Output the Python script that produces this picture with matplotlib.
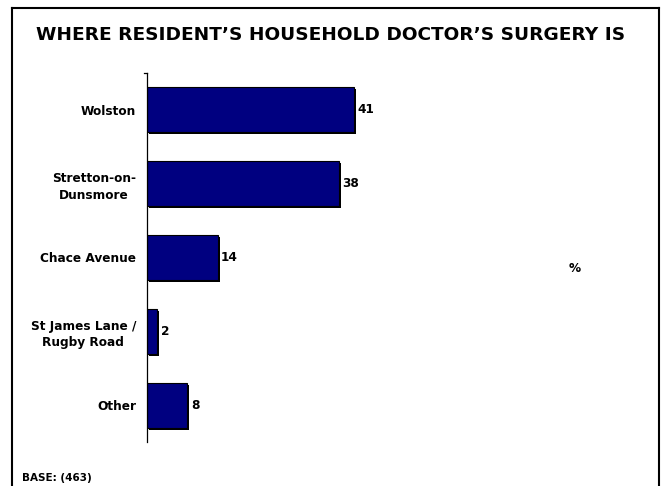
import matplotlib
matplotlib.use("Agg")
import matplotlib.pyplot as plt
from matplotlib.lines import Line2D
import matplotlib.patheffects as pe

categories = ["Wolston", "Stretton-on-\nDunsmore", "Chace Avenue", "St James Lane /\nRugby Road", "Other"]
values = [41, 38, 14, 2, 8]
title = "WHERE RESIDENT\u2019S HOUSEHOLD DOCTOR\u2019S SURGERY IS"
base_text = "BASE: (463)"

plt.rcParams['font.family'] = ['DejaVu Sans']
W, H = 662, 486
fig = plt.figure(figsize=(W/100, H/100), dpi=100)
fig.patch.set_facecolor('white')

ax = fig.add_axes([147/W, 1-442/H, 404/W, 369/H])
pos = list(range(len(categories)))
bars = ax.barh(pos, values, height=0.61, color='#000080', edgecolor='black', linewidth=0.8,
               path_effects=[pe.SimplePatchShadow(offset=(1.5, -1.5), shadow_rgbFace='black', alpha=1), pe.Normal()])
ax.set_xlim(0, 80)
ax.set_ylim(len(categories)-0.5, -0.5)
ax.set_yticks(pos)
ax.set_yticklabels(categories, fontsize=8.7, fontweight='bold', multialignment='center', linespacing=1.35)
ax.tick_params(axis='y', length=0, pad=8)
ax.set_xticks([])
for s in ['top', 'right', 'bottom']:
    ax.spines[s].set_visible(False)
ax.spines['left'].set_linewidth(0.9)
ax.add_line(Line2D([-3/404, 0], [1, 1], transform=ax.transAxes, color='black', lw=0.9, clip_on=False))

for p, v in zip(pos, values):
    ax.annotate(str(v), xy=(v, p), xytext=(2.5, 0), textcoords='offset points',
                va='center', ha='left', fontsize=8.7, fontweight='bold')

fig.text(331/W, 1-35/H, title, ha='center', va='center', fontsize=13.3, fontweight='bold')
fig.text(575/W, 1-268/H, '%', ha='center', va='center', fontsize=8.7, fontweight='bold')
fig.text(22/W, 1-478/H, base_text, ha='left', va='center', fontsize=7.5, fontweight='bold')

# frame
for xs, ys in [([12/W, 12/W], [1-8/H, 0]), ([12/W, 659/W], [1-8/H, 1-8/H]), ([659/W, 659/W], [1-8/H, 0])]:
    fig.add_artist(Line2D(xs, ys, color='black', lw=1.5))

fig.savefig('out.png', dpi=100)
